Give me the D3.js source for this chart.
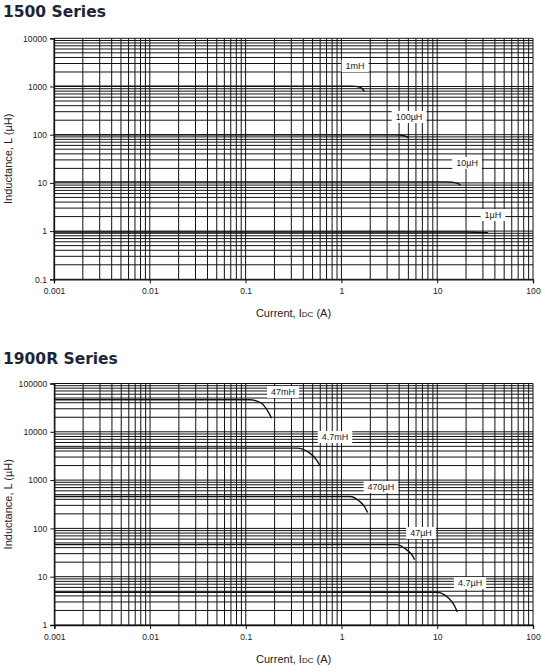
<!DOCTYPE html>
<html><head><meta charset="utf-8">
<script src="https://cdn.jsdelivr.net/npm/d3@7"></script>
<style>body{margin:0;background:#fff}svg{display:block}</style>
</head><body>
<svg id="c" width="545" height="672"></svg>
<script>
// ---- data ----
const titles = ["1500 Series", "1900R Series"];
const xDomain = [0.001, 100];
const yDomainTop = [0.1, 10000];
const yDomainBottom = [1, 100000];
const xTickLabels = ["0.001", "0.01", "0.1", "1", "10", "100"];
const yTickLabelsTop = ["0.1", "1", "10", "100", "1000", "10000"];
const yTickLabelsBottom = ["1", "10", "100", "1000", "10000", "100000"];

// 1500 Series curves: [current A, inductance µH]
const top_1mH   = [[0.001,1020],[1.3,1020],[1.5,990],[1.63,920],[1.74,780]];
const top_100uH = [[0.001,99],[3.6,99],[4.6,94],[5.0,87]];
const top_10uH  = [[0.001,10.5],[12.5,10.5],[14.5,10.3],[16.5,9.7],[17.5,9.0]];
const top_1uH   = [[0.001,0.96],[20,0.955],[34,0.93]];
const topNames  = ["1mH","100µH","10µH","1µH"];
const topLabelAt = [[1.39,2660],[5.08,233],[20.5,25.9],[38.2,2.16]];

// 1900R Series curves
const bot_47mH  = [[0.001,46000],[0.11,46000],[0.146,39000],[0.171,26100],[0.186,19100]];
const bot_4_7mH = [[0.001,4600],[0.34,4600],[0.467,3610],[0.548,2620],[0.59,2070]];
const bot_470uH = [[0.001,458],[1.22,458],[1.55,361],[1.75,277],[1.87,214]];
const bot_47uH  = [[0.001,46.2],[3.75,46.2],[4.77,36.3],[5.51,27.3],[5.8,22.5]];
const bot_4_7uH = [[0.001,4.76],[9.8,4.76],[13.0,3.65],[14.9,2.65],[16.2,1.87]];
const botNames  = ["47mH","4.7mH","470µH","47µH","4.7µH"];
const botLabelAt = [[0.245,66700],[0.855,7800],[2.58,720],[6.76,80.3],[22.0,7.41]];

// ---- drawing ----
const svg = d3.select("#c");
const font = "'Liberation Sans', Arial, sans-serif";

function drawChart(o){
  const g = svg.append("g");
  g.append("text").attr("x", 3).attr("y", o.titleY)
    .attr("font-family","'DejaVu Sans', sans-serif").attr("font-weight","bold")
    .attr("font-size", 15.5).attr("fill","#1d2438").text(o.title);

  const x = d3.scaleLog().domain(xDomain).range([o.left, o.right]);
  const y = d3.scaleLog().domain(o.yDomain).range([o.bottom, o.top]);

  // grid
  const grid = g.append("g").attr("stroke","#111").attr("stroke-width",1).attr("fill","none");
  x.ticks().forEach(t => {
    grid.append("line").attr("x1", x(t)).attr("x2", x(t)).attr("y1", o.top).attr("y2", o.bottom);
  });
  y.ticks().forEach(t => {
    grid.append("line").attr("x1", o.left).attr("x2", o.right).attr("y1", y(t)).attr("y2", y(t));
  });

  // axes
  const xDec = xTickLabels.map(Number);
  const xAxis = d3.axisBottom(x).tickValues(xDec).tickSize(4).tickPadding(5)
    .tickFormat((d,i) => xTickLabels[i]);
  const gx = g.append("g").attr("transform", `translate(0,${o.bottom})`).call(xAxis);
  const yAxis = d3.axisLeft(y).tickValues(o.yLabels.map(Number)).tickSize(4).tickPadding(3)
    .tickFormat((d,i) => o.yLabels[i]);
  const gy = g.append("g").attr("transform", `translate(${o.left},0)`).call(yAxis);
  [gx, gy].forEach(a => {
    a.select(".domain").attr("stroke","#111").attr("stroke-width",1.3);
    a.selectAll(".tick line").attr("stroke","#111");
    a.selectAll("text").attr("font-family", font).attr("font-size", 8.6).attr("fill","#222");
  });

  // axis titles
  g.append("text").attr("transform", `translate(12,${(o.top+o.bottom)/2}) rotate(-90)`)
    .attr("text-anchor","middle").attr("font-family", font).attr("font-size", 11)
    .attr("fill","#222").text("Inductance, L (µH)");
  const xl = g.append("text").attr("x", (o.left+o.right)/2).attr("y", o.bottom + 38)
    .attr("text-anchor","middle").attr("font-family", font).attr("font-size", 11).attr("fill","#222");
  xl.append("tspan").text("Current, I");
  xl.append("tspan").attr("font-size", 8).text("DC");
  xl.append("tspan").text(" (A)");

  // curves
  const line = d3.line().x(d => x(d[0])).y(d => y(d[1])).curve(d3.curveMonotoneX);
  o.curves.forEach(c => {
    g.append("path").datum(c).attr("d", line).attr("fill","none")
      .attr("stroke","#111").attr("stroke-width",1.4);
  });

  // labels
  o.names.forEach((n,i) => {
    const [lx, ly] = [x(o.labelAt[i][0]), y(o.labelAt[i][1])];
    const t = g.append("text").attr("x", lx).attr("y", ly + 3.2).attr("text-anchor","middle")
      .attr("font-family", font).attr("font-size", 9).attr("fill","#222").text(n);
    const bb = t.node().getBBox();
    g.insert("rect", () => t.node()).attr("x", bb.x - 4).attr("y", ly - 6)
      .attr("width", bb.width + 8).attr("height", 12).attr("fill","#fff");
  });
}

drawChart({title: titles[0], titleY: 17.3, left: 54, right: 533, top: 38.3, bottom: 279.3,
  yDomain: yDomainTop, yLabels: yTickLabelsTop,
  curves: [top_1mH, top_100uH, top_10uH, top_1uH], names: topNames, labelAt: topLabelAt});
drawChart({title: titles[1], titleY: 364, left: 54.3, right: 533, top: 383.5, bottom: 625,
  yDomain: yDomainBottom, yLabels: yTickLabelsBottom,
  curves: [bot_47mH, bot_4_7mH, bot_470uH, bot_47uH, bot_4_7uH], names: botNames, labelAt: botLabelAt});
</script>
</body></html>
